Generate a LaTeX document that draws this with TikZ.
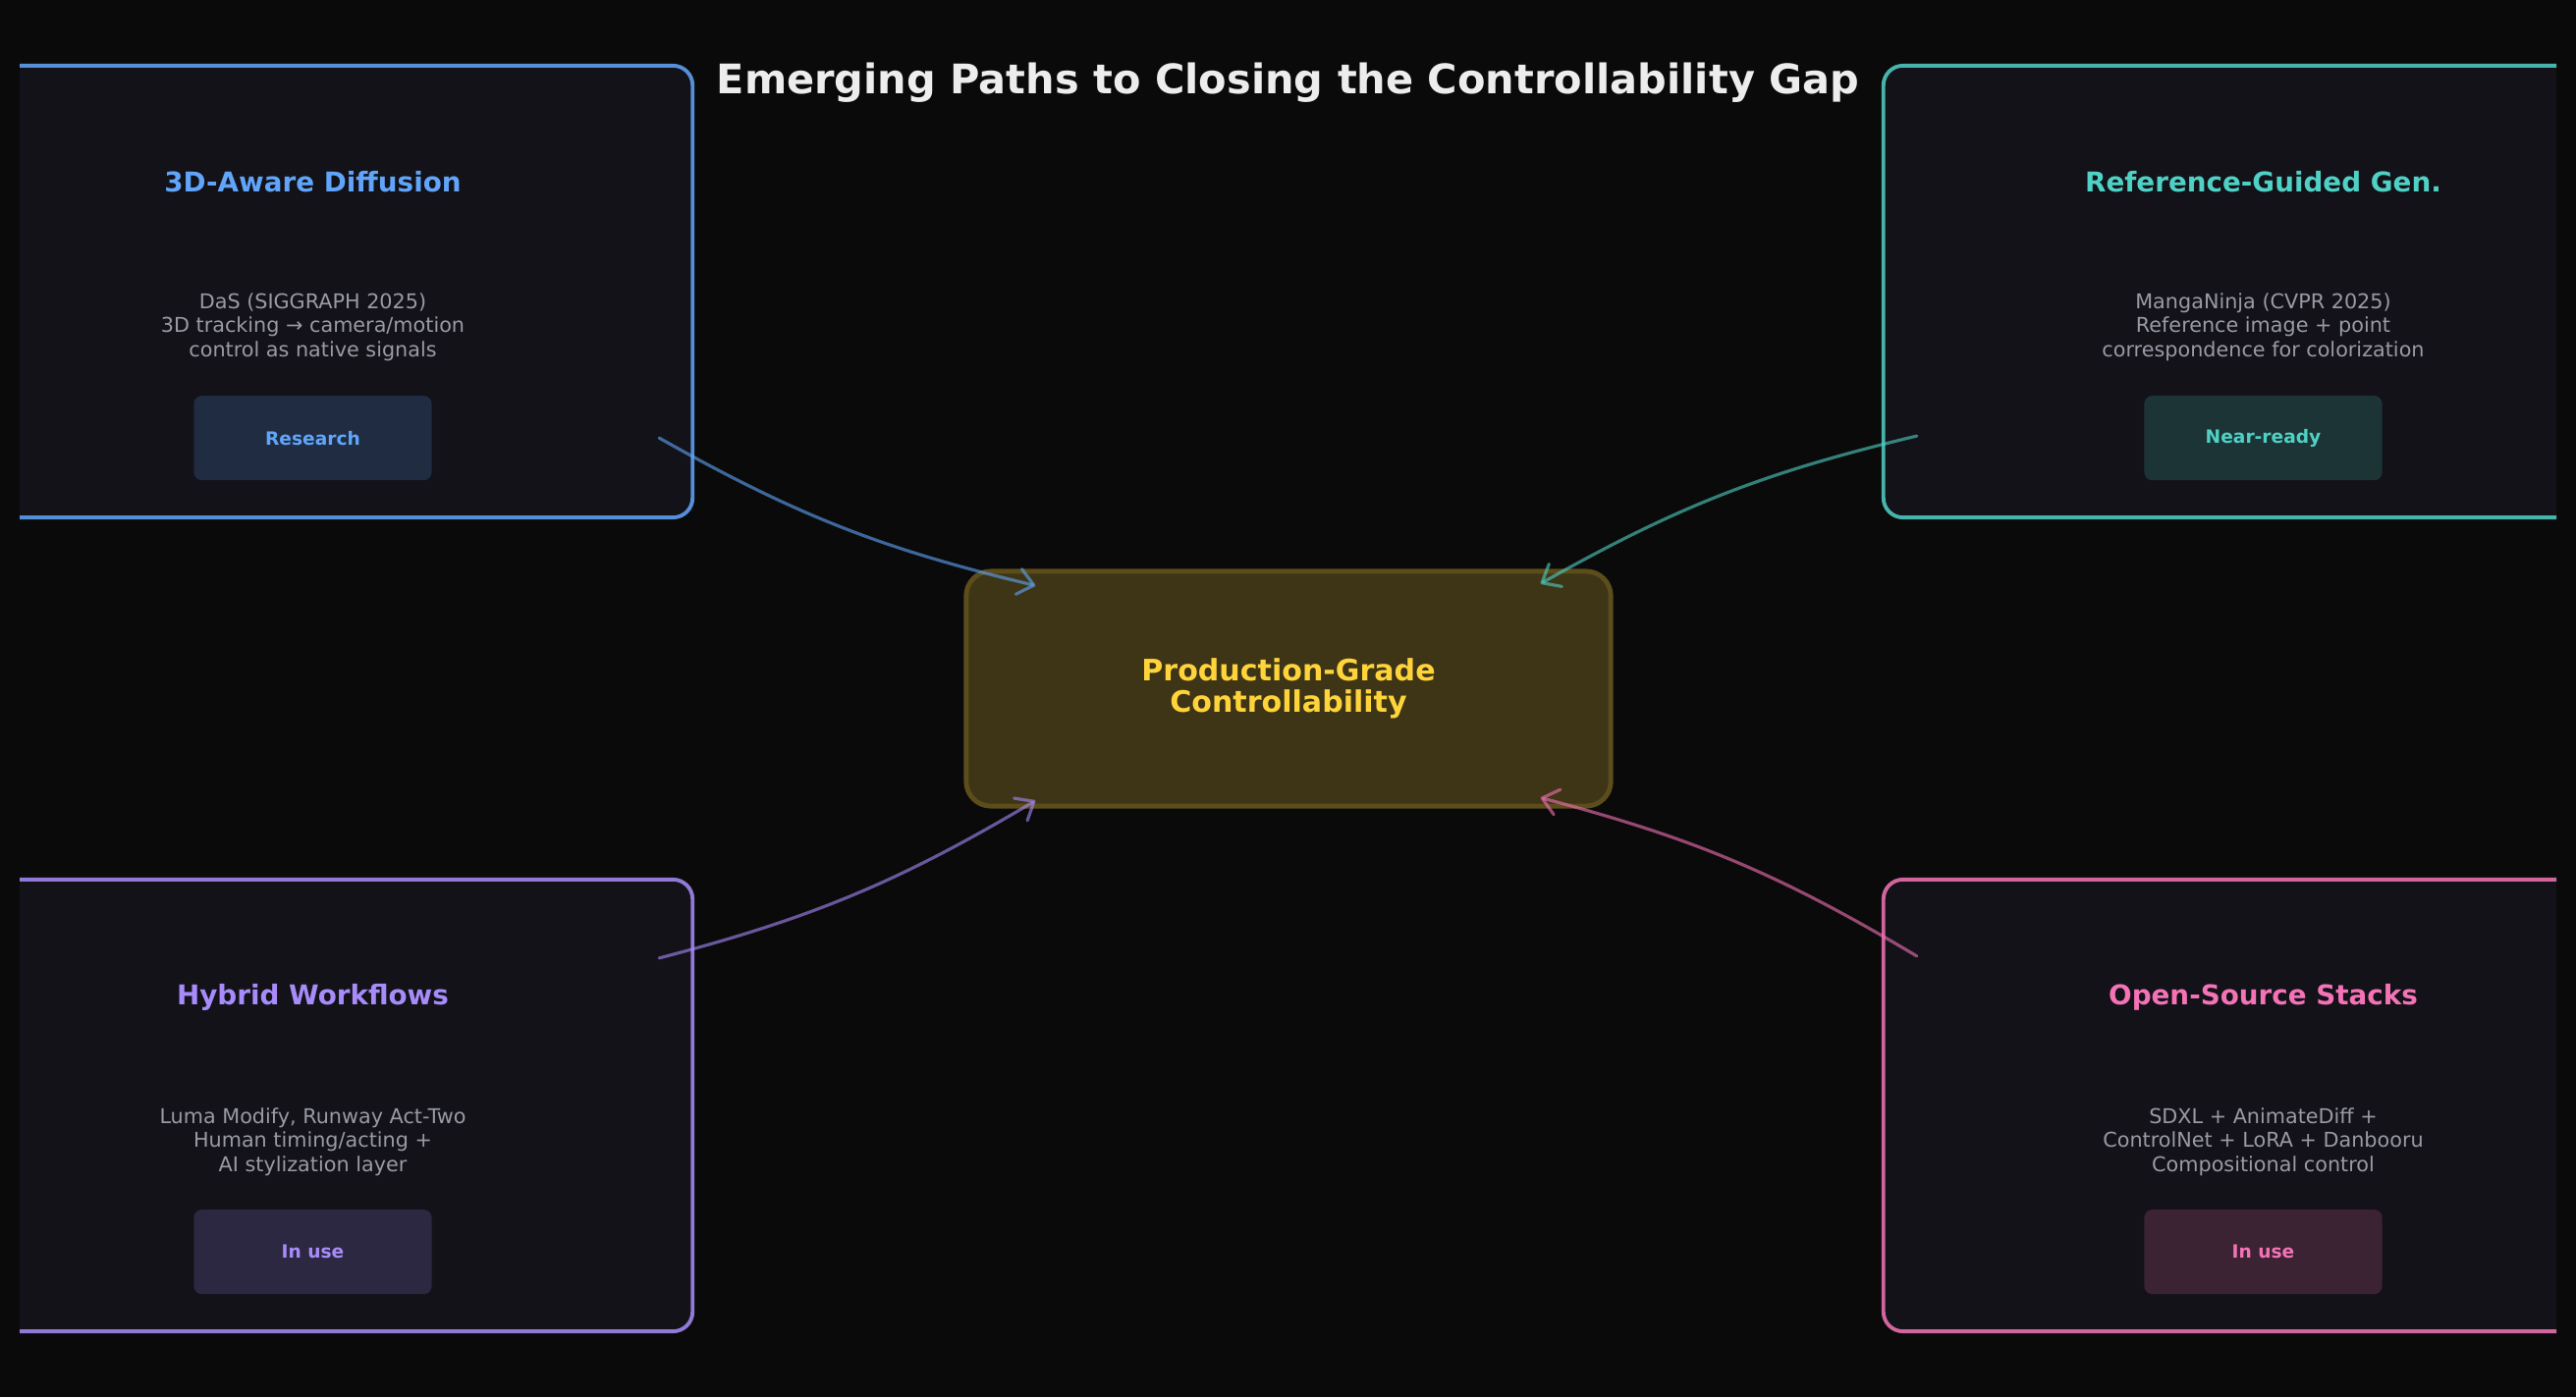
\documentclass[tikz,border=0pt]{standalone}
\usepackage{fontspec}
\setmainfont{DejaVu Sans}
\usepackage{tikz}
\usetikzlibrary{positioning, arrows.meta}
\definecolor{bgcol}{HTML}{0A0A0A}
\definecolor{cardfill}{HTML}{121218}
\definecolor{headgray}{HTML}{EDEDED}
\definecolor{descgray}{HTML}{9A9AA5}
\definecolor{cblue}{HTML}{60A5FA}
\definecolor{cteal}{HTML}{4FD1C5}
\definecolor{cviolet}{HTML}{A78BFA}
\definecolor{cpink}{HTML}{F472B6}
\definecolor{cgold}{HTML}{FFD43B}
\definecolor{corefill}{HTML}{3D3516}
\definecolor{coreline}{HTML}{5C4D1B}
\tikzset{
	card/.style={draw=#1!85!cardfill, line width=1.1pt, fill=cardfill, rounded corners=0.2cm,
		minimum width=7.73cm, minimum height=4.6cm},
	cardtitle/.style={text=#1, font=\fontsize{7.9}{9}\selectfont\bfseries},
	carddesc/.style={text=descgray, align=center, font=\fontsize{5.9}{7}\selectfont},
	badge/.style={fill=#1!18!cardfill, text=#1, rounded corners=0.08cm,
		minimum width=2.42cm, minimum height=0.86cm, font=\fontsize{5.3}{6}\selectfont\bfseries},
	core/.style={fill=corefill, draw=coreline, line width=1.4pt, rounded corners=0.25cm,
		minimum width=6.56cm, minimum height=2.39cm, text=cgold, align=center,
		font=\fontsize{8.55}{9.1}\selectfont\bfseries},
	link/.style={draw=#1, draw opacity=0.6, line width=0.9pt, line cap=round,
		-{Straight Barb[length=4.5pt, width=7.5pt, round]}, bend right=8},
}

\begin{document}
\begin{tikzpicture}[x=0.01cm, y=0.01cm]
	\fill[bgcol] (0,0) rectangle (2623,1423);
	\useasboundingbox (0,0) rectangle (2623,1423);
	\node[text=headgray, font=\fontsize{11.8}{14}\selectfont\bfseries] (head) at (1311.5,1339)
	{Emerging Paths to Closing the Controllability Gap};

	% cards, cut off at the sides
	\begin{scope}
		\clip (20,0) rectangle (2603,1423);
		\node[card=cblue] (diff) at (318.5,1126) {};
		\node[card=cteal] (refg) at (2304.5,1126) {};
		\node[card=cviolet] (hyb) at (318.5,297) {};
		\node[card=cpink] (oss) at (2304.5,297) {};

		\node[cardtitle=cblue, below=1.2cm of diff.north, anchor=center] (diffname) {3D-Aware Diffusion};
		\node[carddesc, below=1.48cm of diffname.center, anchor=center] (diffdesc)
		{DaS (SIGGRAPH 2025)\\3D tracking → camera/motion\\control as native signals};
		\node[badge=cblue, below=1.13cm of diffdesc.center, anchor=center] (diffbadge) {Research};

		\node[cardtitle=cteal, below=1.2cm of refg.north, anchor=center] (refgname) {Reference-Guided Gen.};
		\node[carddesc, below=1.48cm of refgname.center, anchor=center] (refgdesc)
		{MangaNinja (CVPR 2025)\\Reference image + point\\correspondence for colorization};
		\node[badge=cteal, below=1.13cm of refgdesc.center, anchor=center] (refgbadge) {Near-ready};

		\node[cardtitle=cviolet, below=1.22cm of hyb.north, anchor=center] (hybname) {Hybrid Workflows};
		\node[carddesc, below=1.47cm of hybname.center, anchor=center] (hybdesc)
		{Luma Modify, Runway Act-Two\\Human timing/acting +\\AI stylization layer};
		\node[badge=cviolet, below=1.12cm of hybdesc.center, anchor=center] (hybbadge) {In use};

		\node[cardtitle=cpink, below=1.22cm of oss.north, anchor=center] (ossname) {Open-Source Stacks};
		\node[carddesc, below=1.47cm of ossname.center, anchor=center] (ossdesc)
		{SDXL + AnimateDiff +\\ControlNet + LoRA + Danbooru\\Compositional control};
		\node[badge=cpink, below=1.12cm of ossdesc.center, anchor=center] (ossbadge) {In use};
	\end{scope}

	\node[core] (core) at (1312,721.5) {Production-Grade\\Controllability};

	\draw[link=cblue] ([shift={(-36,83)}]diff.south east) to ([shift={(73,-17)}]core.north west);
	\draw[link=cteal] ([shift={(36,85)}]refg.south west) to ([shift={(-74,-15)}]core.north east);
	\draw[link=cviolet] ([shift={(-36,-82)}]hyb.north east) to ([shift={(73,8)}]core.south west);
	\draw[link=cpink] ([shift={(36,-80)}]oss.north west) to ([shift={(-74,11)}]core.south east);
\end{tikzpicture}
\end{document}
